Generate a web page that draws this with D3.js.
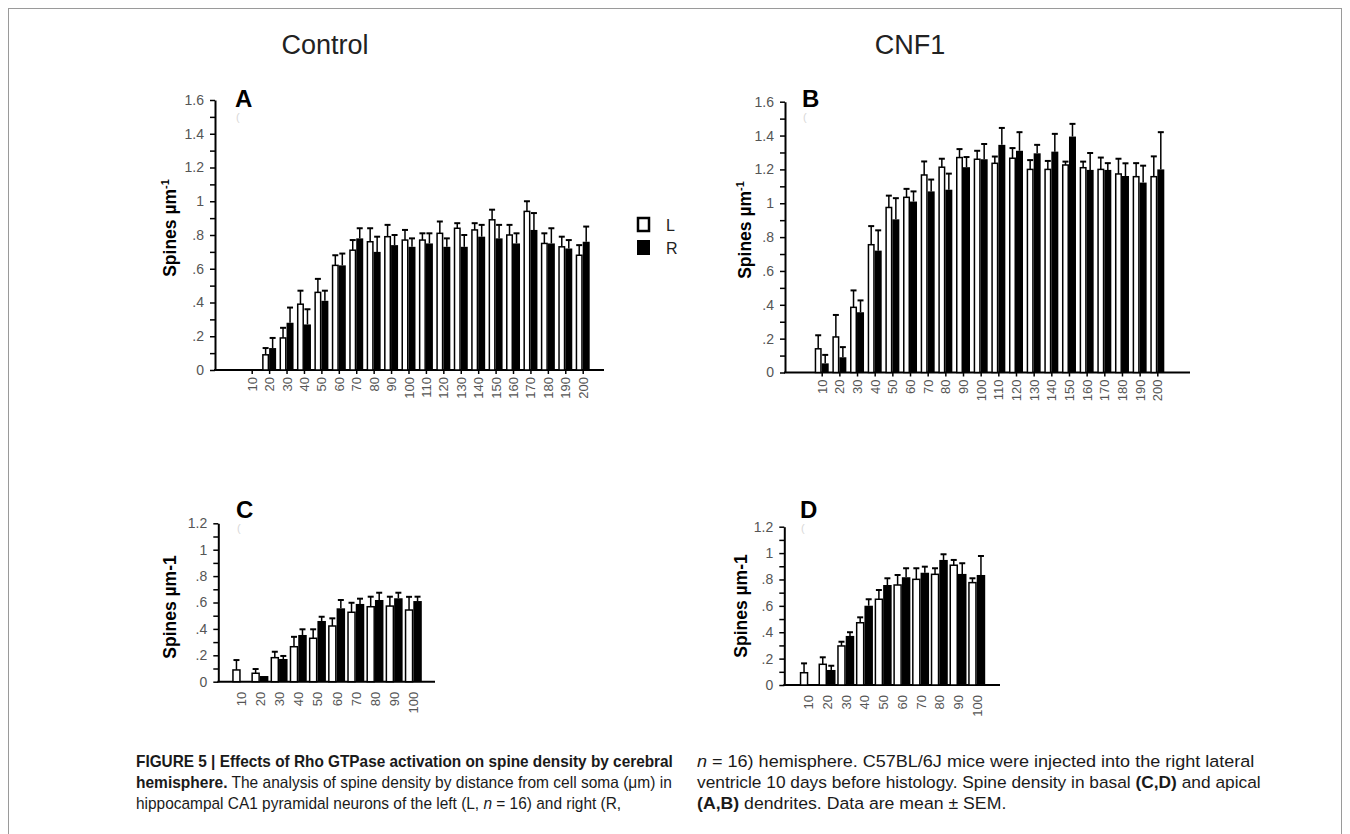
<!DOCTYPE html>
<html>
<head>
<meta charset="utf-8">
<script src="https://cdn.jsdelivr.net/npm/d3@7"></script>
<style>
  body { margin: 0; background: #fff; }
  svg { display: block; }
  text { font-family: "Liberation Sans", Arial, sans-serif; }
</style>
</head>
<body>
<svg id="fig" width="1350" height="834"></svg>
<script>
// distances from soma (µm)
var distApical = [10, 20, 30, 40, 50, 60, 70, 80, 90, 100, 110, 120, 130, 140, 150, 160, 170, 180, 190, 200]
var distBasal = [10, 20, 30, 40, 50, 60, 70, 80, 90, 100]

// A: control, apical
var aLeft = [0, 0.09, 0.19, 0.39, 0.46, 0.62, 0.71, 0.76, 0.79, 0.77, 0.77, 0.81, 0.84, 0.83, 0.89, 0.80, 0.94, 0.75, 0.73, 0.68]
var aLeftSem = [0, 0.04, 0.06, 0.08, 0.08, 0.06, 0.06, 0.08, 0.07, 0.06, 0.04, 0.07, 0.03, 0.04, 0.06, 0.06, 0.06, 0.06, 0.06, 0.06]
var aRight = [0, 0.13, 0.28, 0.27, 0.41, 0.62, 0.78, 0.70, 0.74, 0.73, 0.75, 0.73, 0.73, 0.79, 0.78, 0.75, 0.83, 0.75, 0.72, 0.76]
var aRightSem = [0, 0.06, 0.09, 0.09, 0.06, 0.07, 0.06, 0.09, 0.06, 0.05, 0.06, 0.05, 0.07, 0.07, 0.08, 0.06, 0.10, 0.09, 0.05, 0.09]

// B: CNF1, apical
var bLeft = [0.14, 0.21, 0.385, 0.755, 0.975, 1.035, 1.167, 1.213, 1.27, 1.26, 1.236, 1.266, 1.20, 1.20, 1.226, 1.21, 1.20, 1.173, 1.157, 1.157]
var bLeftSem = [0.08, 0.13, 0.10, 0.11, 0.07, 0.05, 0.08, 0.05, 0.05, 0.05, 0.04, 0.06, 0.055, 0.05, 0.02, 0.036, 0.07, 0.09, 0.08, 0.12]
var bRight = [0.054, 0.09, 0.356, 0.72, 0.905, 1.01, 1.07, 1.08, 1.213, 1.26, 1.345, 1.31, 1.295, 1.305, 1.394, 1.197, 1.197, 1.161, 1.122, 1.20]
var bRightSem = [0.05, 0.06, 0.07, 0.12, 0.125, 0.06, 0.07, 0.095, 0.06, 0.09, 0.10, 0.11, 0.05, 0.105, 0.075, 0.10, 0.04, 0.075, 0.10, 0.22]

// C: control, basal
var cLeft = [0.089, 0.064, 0.182, 0.265, 0.329, 0.422, 0.526, 0.568, 0.573, 0.543]
var cLeftSem = [0.075, 0.032, 0.045, 0.075, 0.068, 0.058, 0.072, 0.076, 0.071, 0.10]
var cRight = [0, 0.043, 0.172, 0.354, 0.46, 0.556, 0.589, 0.619, 0.632, 0.611]
var cRightSem = [0, 0, 0.023, 0.043, 0.032, 0.063, 0.04, 0.055, 0.042, 0.033]

// D: CNF1, basal
var dLeft = [0.093, 0.157, 0.296, 0.472, 0.65, 0.758, 0.801, 0.839, 0.908, 0.776]
var dLeftSem = [0.071, 0.053, 0.032, 0.041, 0.07, 0.076, 0.084, 0.046, 0.04, 0.033]
var dRight = [0, 0.114, 0.372, 0.601, 0.758, 0.817, 0.851, 0.948, 0.842, 0.834]
var dRightSem = [0, 0.032, 0.028, 0.049, 0.051, 0.068, 0.046, 0.043, 0.081, 0.144]

var svg = d3.select("#fig")

// frame around figure + caption
svg.append("rect")
    .attr("x", 8.5).attr("y", 8.5)
    .attr("width", 1333).attr("height", 840)
    .attr("fill", "none")
    .attr("stroke", "#9a9a9a")
    .attr("stroke-width", 1)

svg.append("text").attr("x", 325).attr("y", 54).attr("text-anchor", "middle")
    .attr("font-size", 27).attr("fill", "#222").text("Control")
svg.append("text").attr("x", 910).attr("y", 54).attr("text-anchor", "middle")
    .attr("font-size", 27).attr("fill", "#222").text("CNF1")

function fmtY(v) {
    var s = d3.format(".1f")(v)
    if (s.endsWith(".0")) s = s.slice(0, -2)
    if (s.startsWith("0.")) s = s.slice(1)
    return s
}

function drawPanel(p) {
    var g = svg.append("g")

    var yScale = d3.scaleLinear()
        .domain([0, p.ymax])
        .range([p.y0, p.yTop])

    var xScale = d3.scalePoint()
        .domain(p.cats)
        .range([p.first, p.last])

    // y axis, minor ticks every .1, labels every .2
    var yTicks = d3.range(0, Math.round(p.ymax * 10) + 1).map(i => i / 10)
    var yAxisGen = d3.axisLeft(yScale)
        .tickValues(yTicks)
        .tickSize(5)
        .tickSizeOuter(0)
        .tickPadding(6)
        .tickFormat((d, i) => i % 2 === 0 ? fmtY(d) : "")
    var yAxis = g.append("g")
        .attr("transform", `translate(${p.yAxisX},0)`)
        .call(yAxisGen)
    yAxis.select(".domain").attr("stroke-width", 2)
    yAxis.selectAll(".tick line").attr("stroke-width", 1.5)
    yAxis.selectAll("text").attr("font-size", 14).attr("fill", "#555")
        .attr("font-family", "Liberation Sans, Arial, sans-serif")

    // x axis
    var xAxisGen = d3.axisBottom(xScale)
        .tickSize(p.xTick)
        .tickSizeOuter(0)
    var xAxis = g.append("g")
        .attr("transform", `translate(0,${p.y0})`)
        .call(xAxisGen)
    xAxis.select(".domain").remove()
    xAxis.selectAll(".tick line").attr("stroke-width", 1.5)
    xAxis.selectAll("text")
        .attr("font-size", 13)
        .attr("fill", "#555")
        .attr("font-family", "Liberation Sans, Arial, sans-serif")
        .attr("text-anchor", "end")
        .attr("transform", "rotate(-90)")
        .attr("x", -p.labelGap)
        .attr("y", 0)
        .attr("dy", ".35em")
    g.append("line")
        .attr("x1", p.yAxisX - 1).attr("x2", p.axisEnd)
        .attr("y1", p.y0).attr("y2", p.y0)
        .attr("stroke", "black").attr("stroke-width", 2)

    // bars
    var rows = p.cats.map((c, i) => ({
        cat: c, l: p.left[i], lSem: p.leftSem[i], r: p.right[i], rSem: p.rightSem[i]
    }))

    var bw = p.barW
    var bars = g.append("g")

    // error bars first, bars drawn over the stem
    rows.forEach(d => {
        var cx = xScale(d.cat)
        ;[[d.l, d.lSem, cx - bw / 2], [d.r, d.rSem, cx + bw / 2]].forEach(e => {
            if (e[0] <= 0 || e[1] <= 0) return
            bars.append("line")
                .attr("x1", e[2]).attr("x2", e[2])
                .attr("y1", yScale(e[0])).attr("y2", yScale(e[0] + e[1]))
                .attr("stroke", "black").attr("stroke-width", 1.5)
            bars.append("line")
                .attr("x1", e[2] - 3).attr("x2", e[2] + 3)
                .attr("y1", yScale(e[0] + e[1])).attr("y2", yScale(e[0] + e[1]))
                .attr("stroke", "black").attr("stroke-width", 2)
        })
    })

    bars.selectAll("rect.l")
        .data(rows.filter(d => d.l > 0))
        .enter()
        .append("rect")
        .attr("x", d => xScale(d.cat) - bw + 0.75)
        .attr("y", d => yScale(d.l))
        .attr("width", bw - 1.5)
        .attr("height", d => yScale(0) - yScale(d.l))
        .attr("fill", "white")
        .attr("stroke", "black")
        .attr("stroke-width", 1.5)

    bars.selectAll("rect.r")
        .data(rows.filter(d => d.r > 0))
        .enter()
        .append("rect")
        .attr("x", d => xScale(d.cat))
        .attr("y", d => yScale(d.r))
        .attr("width", bw)
        .attr("height", d => yScale(0) - yScale(d.r))
        .attr("fill", "black")

    // panel letter
    g.append("text")
        .attr("x", p.letterX).attr("y", p.letterY)
        .attr("font-size", 24).attr("font-weight", "bold")
        .text(p.letter)
    // faint scan mark
    g.append("text")
        .attr("x", p.letterX + 1).attr("y", p.letterY + 14)
        .attr("font-size", 11).attr("fill", "#d8d8d8")
        .text("(")

    // y axis title
    var yt = g.append("text")
        .attr("transform", `translate(${p.titleX},${p.titleY}) rotate(-90)`)
        .attr("text-anchor", "middle")
        .attr("font-size", 17.5).attr("font-weight", "bold")
    if (p.superscript) {
        yt.append("tspan").text("Spines µm")
        yt.append("tspan").attr("dy", -7).attr("font-size", 11).text("-1")
    } else {
        yt.text("Spines µm-1")
    }
}

drawPanel({
    letter: "A", letterX: 235, letterY: 107,
    cats: distApical, left: aLeft, leftSem: aLeftSem, right: aRight, rightSem: aRightSem,
    ymax: 1.6, y0: 370, yTop: 100, yAxisX: 215,
    first: 251.7, last: 582.7, axisEnd: 604, barW: 7, xTick: 4, labelGap: 7,
    titleX: 176, titleY: 228, superscript: true
})
drawPanel({
    letter: "B", letterX: 802, letterY: 107,
    cats: distApical, left: bLeft, leftSem: bLeftSem, right: bRight, rightSem: bRightSem,
    ymax: 1.6, y0: 372.5, yTop: 101.7, yAxisX: 785,
    first: 821.7, last: 1157.3, axisEnd: 1190, barW: 7, xTick: 4, labelGap: 7,
    titleX: 751, titleY: 230, superscript: true
})
drawPanel({
    letter: "C", letterX: 236, letterY: 518,
    cats: distBasal, left: cLeft, leftSem: cLeftSem, right: cRight, rightSem: cRightSem,
    ymax: 1.2, y0: 681.7, yTop: 523.3, yAxisX: 218.3,
    first: 240.7, last: 413.3, axisEnd: 435, barW: 8.5, xTick: 0, labelGap: 10,
    titleX: 176, titleY: 607, superscript: false
})
drawPanel({
    letter: "D", letterX: 800, letterY: 518,
    cats: distBasal, left: dLeft, leftSem: dLeftSem, right: dRight, rightSem: dRightSem,
    ymax: 1.2, y0: 685, yTop: 526.7, yAxisX: 784.3,
    first: 808.3, last: 976.7, axisEnd: 1000, barW: 8.5, xTick: 0, labelGap: 10,
    titleX: 747, titleY: 606, superscript: false
})

// legend
var legend = svg.append("g")
legend.append("rect").attr("x", 638).attr("y", 218).attr("width", 11).attr("height", 13)
    .attr("fill", "white").attr("stroke", "black").attr("stroke-width", 2.5)
legend.append("rect").attr("x", 637).attr("y", 240).attr("width", 13).attr("height", 15)
    .attr("fill", "black")
legend.append("text").attr("x", 666).attr("y", 231).attr("font-size", 16).attr("fill", "#222").text("L")
legend.append("text").attr("x", 666).attr("y", 254).attr("font-size", 16).attr("fill", "#222").text("R")

// caption: condensed look by squeezing each line horizontally to the column width
var captionLines = [
    { col: 0, x: 136, y: 767, w: 537, parts: [["FIGURE 5 | Effects of Rho GTPase activation on spine density by cerebral", "b"]] },
    { col: 0, x: 136, y: 788, w: 536, parts: [["hemisphere.", "b"], [" The analysis of spine density by distance from cell soma (μm) in", ""]] },
    { col: 0, x: 136, y: 809, w: 0, parts: [["hippocampal CA1 pyramidal neurons of the left (L, ", ""], ["n", "i"], [" = 16) and right (R,", ""]] },
    { col: 1, x: 697, y: 767, w: 558, parts: [["n", "i"], [" = 16) hemisphere. C57BL/6J mice were injected into the right lateral", ""]] },
    { col: 1, x: 697, y: 788, w: 564, parts: [["ventricle 10 days before histology. Spine density in basal ", ""], ["(C,D)", "b"], [" and apical", ""]] },
    { col: 1, x: 697, y: 809, w: 0, parts: [["(A,B)", "b"], [" dendrites. Data are mean ± SEM.", ""]] }
]
var colScale = [[], []]
var capNodes = captionLines.map(line => {
    var t = svg.append("text")
        .attr("font-size", 16.5)
        .attr("fill", "#1a1a1a")
        .style("white-space", "pre")
    line.parts.forEach(part => {
        var ts = t.append("tspan").text(part[0])
        if (part[1] === "b") ts.attr("font-weight", "bold")
        if (part[1] === "i") ts.attr("font-style", "italic")
    })
    var natural = t.node().getComputedTextLength()
    if (line.w > 0) colScale[line.col].push(line.w / natural)
    return { t: t, natural: natural, line: line }
})
capNodes.forEach(c => {
    var sx = c.line.w > 0 ? c.line.w / c.natural : d3.mean(colScale[c.line.col])
    c.t.attr("transform", `translate(${c.line.x},${c.line.y}) scale(${sx},1)`)
})
</script>
</body>
</html>
